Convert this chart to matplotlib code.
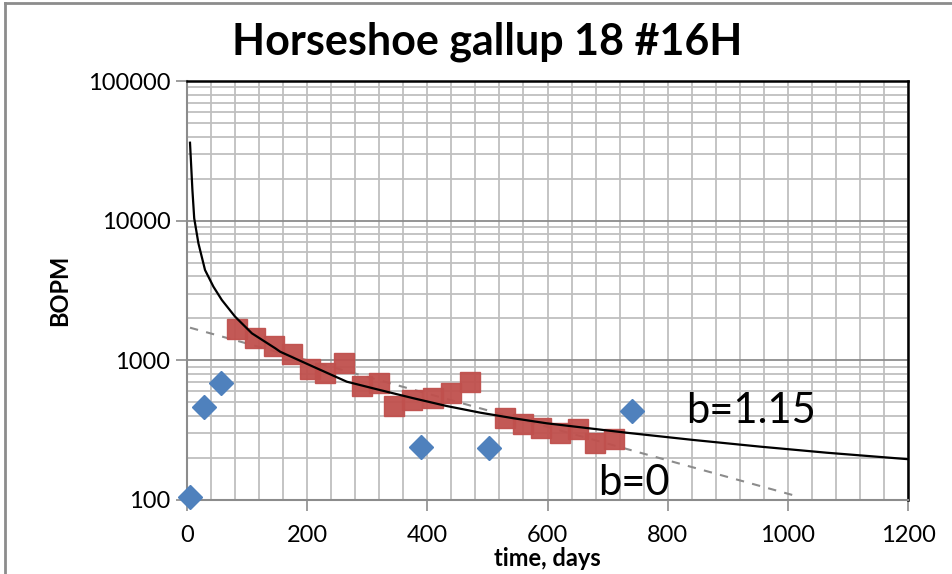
import matplotlib
matplotlib.use("Agg")
import matplotlib.pyplot as plt
from matplotlib.ticker import FixedLocator, LogLocator, NullFormatter
from matplotlib.lines import Line2D

plt.rcParams['font.family'] = ['Lato', 'DejaVu Sans']

# monthly production (red squares)
prod_days = [83, 113, 144, 175, 205, 230, 261, 291, 320, 345, 374, 410, 440, 471,
             530, 560, 589, 620, 651, 679, 710]
prod_bopm = [1668, 1452, 1267, 1105, 862, 816, 952, 655, 684, 471, 520, 535, 587, 703,
             387, 348, 326, 300, 321, 255, 272]

# other points (blue diamonds)
pts_days = [5, 29, 57, 389, 503, 740]
pts_bopm = [105, 466, 684, 241, 234, 434]

# hyperbolic fit b=1.15
hyp_days = [5, 9, 12, 19, 30, 44, 58, 80, 108, 147, 155, 210, 266, 321, 377, 432,
            488, 543, 599, 654, 732, 843, 954, 1065, 1200]
hyp_bopm = [36150, 16580, 10400, 6885, 4433, 3367, 2703, 2055, 1561, 1219, 1153, 901,
            703, 613, 535, 471, 422, 385, 354, 332, 303, 269, 241, 218, 196]

# exponential fit b=0
exp_days = [5, 1020]
exp_bopm = [1713, 105]

fig = plt.figure(figsize=(9.53, 5.74), dpi=100)
ax = fig.add_axes([187 / 953, 1 - 500 / 574, 721 / 953, 419 / 574])

ax.set_yscale('log')
ax.set_xlim(0, 1200)
ax.set_ylim(100, 100000)

# grid
ax.xaxis.set_major_locator(FixedLocator(range(0, 1201, 200)))
ax.xaxis.set_minor_locator(FixedLocator(range(0, 1201, 40)))
ax.yaxis.set_major_locator(LogLocator(base=10, numticks=10))
ax.yaxis.set_minor_locator(LogLocator(base=10, subs=range(2, 10), numticks=20))
ax.yaxis.set_minor_formatter(NullFormatter())
ax.grid(True, which='minor', axis='both', color='#BFBFBF', lw=1.3)
ax.grid(True, which='major', axis='x', color='#BFBFBF', lw=1.3)
ax.grid(True, which='major', axis='y', color='#8C8C8C', lw=1.3)
ax.set_axisbelow(True)

ax.set_yticks([100, 1000, 10000, 100000])
ax.set_yticklabels(['100', '1000', '10000', '100000'])
ax.tick_params(axis='both', which='major', direction='out', length=8, width=1.2,
               color='#8C8C8C', labelsize=17)
ax.tick_params(axis='x', which='major', pad=10)
ax.tick_params(axis='y', which='major', pad=4)
ax.tick_params(axis='both', which='minor', length=0)

for s in ['left', 'bottom']:
    ax.spines[s].set_color('#8C8C8C')
    ax.spines[s].set_linewidth(1.5)
for s in ['top', 'right']:
    ax.spines[s].set_color('black')
    ax.spines[s].set_linewidth(1.8)

ax.plot(exp_days, exp_bopm, color='#8C8C8C', lw=1.5, ls=(0, (4, 4)), zorder=3)
ax.plot(prod_days, prod_bopm, ls='none', marker='s', ms=15, color='#C0504D',
        mec='#C0504D', alpha=0.95, zorder=4)
ax.plot(hyp_days, hyp_bopm, color='black', lw=1.6, zorder=5)
ax.plot(pts_days, pts_bopm, ls='none', marker='D', ms=12, color='#4F81BD',
        mec='#4F81BD', zorder=6, clip_on=False)

ax.text(830, 356, 'b=1.15', fontsize=30, ha='left', va='baseline')
ax.text(684, 108, 'b=0', fontsize=30, ha='left', va='baseline')

ax.set_xlabel('time, days', fontsize=17, fontweight='bold', va='center')
ax.xaxis.set_label_coords(0.5, -(559 - 500) / 419)
ax.set_ylabel('BOPM', fontsize=17, fontweight='bold', va='center')
ax.yaxis.set_label_coords((60 - 187) / 721, 0.5)
fig.text(487 / 953, 1 - 42 / 574, 'Horseshoe gallup 18 #16H', fontsize=31,
         fontweight='bold', ha='center', va='center')

# outer chart border
fig.add_artist(Line2D([5 / 953, 5 / 953], [0, 1 - 3 / 574], color='#8C8C8C', lw=2))
fig.add_artist(Line2D([5 / 953, 1], [1 - 3 / 574, 1 - 3 / 574], color='#8C8C8C', lw=2))

fig.savefig('out.png', dpi=100)
